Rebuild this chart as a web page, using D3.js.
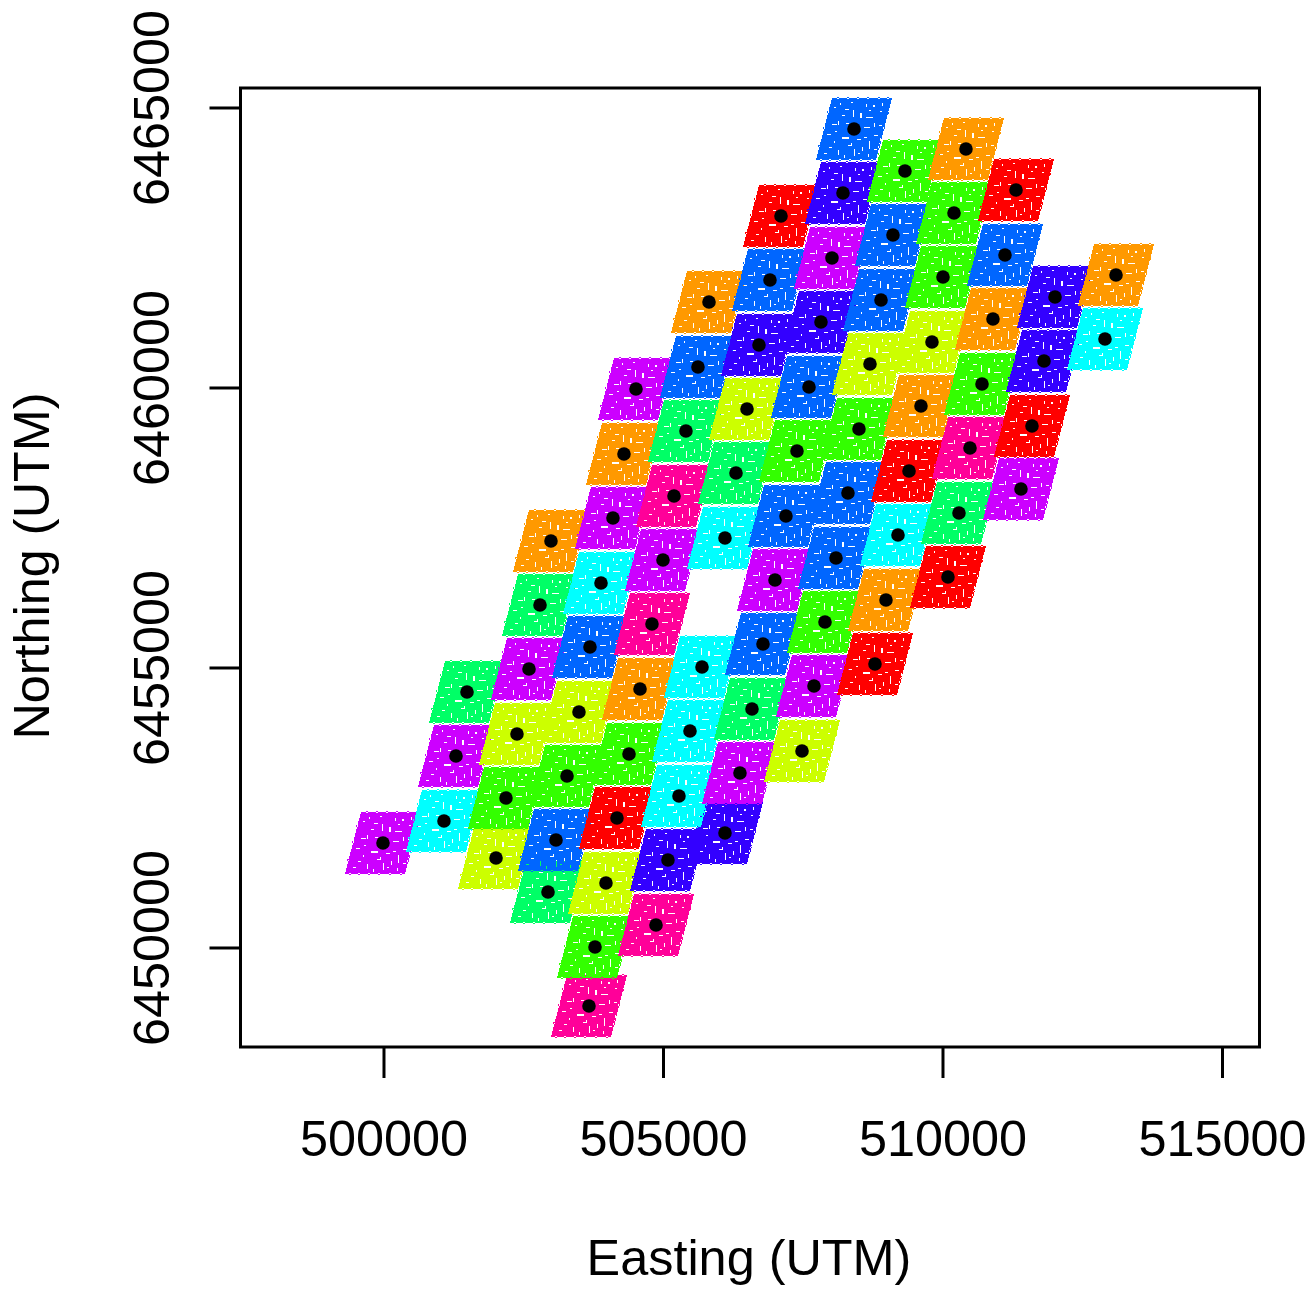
<!DOCTYPE html>
<html>
<head>
<meta charset="utf-8">
<script src="https://cdn.jsdelivr.net/npm/d3@7"></script>
<style>
  html, body { margin: 0; background: #fff; }
  text { font-family: "Liberation Sans", Arial, sans-serif; fill: #000; }
</style>
</head>
<body>
<script>
// tile centres in map units
const eastings = [508417,510420,509329,508220,511315,507111,510206,509114,508023,511118,513104,506914,510009,505823,508900,512013,507826,510903,512907,506717,509812,505626,508703,511816,510707,504517,507612,509615,506503,511601,508506,505411,510492,507397,504302,509401,506306,511404,508309,505197,510295,504105,507200,509204,506109,502996,508095,505000,510098,503891,507004,508989,502800,507898,504803,506789,503694,508792,505698,502603,507701,504589,501494,503497,506592,505483,502388,507487,504392,501297,506377,503283,505286,502191,504177,501082,506109,503086,499991,505089,502013,503980,502943,504875,503784,503676];
const northings = [6464616,6464259,6463866,6463473,6463527,6463062,6463116,6462723,6462312,6462366,6462009,6461920,6461973,6461527,6461562,6461616,6461170,6461223,6460866,6460759,6460812,6460366,6460420,6460473,6460063,6459973,6460009,6459670,6459616,6459312,6459259,6459223,6458920,6458866,6458812,6458509,6458473,6458187,6458116,6458062,6457759,6457670,6457705,6457366,6457312,6457259,6456955,6456920,6456616,6456509,6456562,6456205,6456116,6455812,6455777,6455420,6455366,6455062,6455009,6454973,6454670,6454616,6454562,6454205,6454259,6453866,6453812,6453509,6453455,6453420,6453116,6453062,6452705,6452670,6452312,6452259,6452045,6451920,6451866,6451562,6451598,6451152,6450991,6450402,6450009,6448955];
const clusters = [6,1,3,7,0,0,3,6,8,6,1,6,3,1,6,7,7,1,5,7,2,6,2,7,3,8,6,1,2,0,3,4,9,3,1,0,4,8,6,9,4,8,6,5,5,1,6,8,0,5,8,1,4,3,9,6,6,0,5,8,8,1,4,2,4,5,2,2,3,8,8,3,5,3,0,5,7,6,8,7,2,2,4,9,3,9];

// same as rainbow(10) in R
const palette = ["#FF0000","#FF9900","#CCFF00","#33FF00","#00FF66","#00FFFF","#0066FF","#3300FF","#CC00FF","#FF0099"];

const xTicks = [500000,505000,510000,515000];
const yTicks = [6450000,6455000,6460000,6465000];
const xLabel = "Easting (UTM)";
const yLabel = "Northing (UTM)";

// corners of one tile, metres from its centre
const tileCorners = [[-394,554],[680,554],[394,-554],[-680,-554]];

// every tile has the same sampling holes: [dE, dN, wE, hN] in metres from centre
const tileGaps = [
  [-216,-144,126,36],[0,-360,18,126],[270,-216,18,144],[-18,342,18,126],[108,288,36,90],
  [216,216,126,18],[-162,360,72,18],[-360,396,36,18],[342,432,36,36],[468,324,36,18],
  [-288,144,18,72],[-396,90,90,18],[-144,108,54,18],[180,36,108,18],[360,108,18,72],
  [450,72,54,18],[-486,-90,72,18],[-360,-216,18,36],[180,-144,54,18],[360,-108,72,18],
  [54,-180,72,18],[-108,-288,72,18],[-450,-324,54,18],[-288,-378,18,90],[144,-324,18,72],
  [360,-360,54,18],[-540,-432,54,18],[252,-450,18,54],[-180,-468,18,54],[-54,486,36,18],
  [216,450,18,54],[-216,252,54,18],[270,342,36,18],[504,468,18,54],[-54,-252,18,36],
  [-342,-36,36,18],[468,-162,18,54],[-252,468,18,36],[72,-432,36,18],[450,-252,36,18],
  // ragged edges
  [-300,572,36,32],[-120,572,36,32],[60,572,36,32],[230,572,36,32],[430,572,36,32],[590,572,36,32],
  [-610,-536,36,32],[-450,-536,36,32],[-270,-536,36,32],[-90,-536,36,32],[110,-536,36,32],[300,-536,36,32],
  [-480,320,28,36],[-550,40,28,36],[-640,-290,28,36],[600,300,28,36],[520,40,28,36],[430,-300,28,36]
];

const width = 1315;
const height = 1298;

// plot frame sits at these pixels
const frame = { left: 240.5, right: 1259.5, top: 88, bottom: 1047 };

const xScale = d3.scaleLinear()
  .domain([497442, 515671])
  .range([frame.left, frame.right]);

const yScale = d3.scaleLinear()
  .domain([6448223, 6465348])
  .range([frame.bottom, frame.top]);

const svg = d3.select("body")
  .append("svg")
    .attr("width", width)
    .attr("height", height)
    .style("display", "block");

// tile outline plus its holes, evenodd lets lower tiles show through
function tilePath(i) {
  const e = eastings[i], n = northings[i];
  const p = d3.path();
  tileCorners.forEach((c, k) => {
    if (k === 0) p.moveTo(xScale(e + c[0]), yScale(n + c[1]));
    else p.lineTo(xScale(e + c[0]), yScale(n + c[1]));
  });
  p.closePath();
  tileGaps.forEach(g => {
    const x0 = xScale(e + g[0]);
    const y0 = yScale(n + g[1]);
    p.rect(x0, y0, xScale(e + g[0] + g[2]) - x0, yScale(n + g[1] - g[3]) - y0);
  });
  return p.toString();
}

// drawn from the south end up, northern tiles overlap southern ones
const order = d3.range(eastings.length).reverse();

svg.append("g")
  .attr("shape-rendering", "crispEdges")
  .selectAll("path")
  .data(order)
  .enter()
  .append("path")
    .attr("d", tilePath)
    .attr("fill", i => palette[clusters[i]])
    .attr("fill-rule", "evenodd");

// centre points
svg.append("g")
  .selectAll("circle")
  .data(order)
  .enter()
  .append("circle")
    .attr("cx", i => xScale(eastings[i]))
    .attr("cy", i => yScale(northings[i]))
    .attr("r", 6.8)
    .attr("fill", "#000");

// frame
svg.append("rect")
  .attr("x", frame.left)
  .attr("y", frame.top)
  .attr("width", frame.right - frame.left)
  .attr("height", frame.bottom - frame.top)
  .attr("fill", "none")
  .attr("stroke", "#000")
  .attr("stroke-width", 3);

// axes
const xAxis = svg.append("g")
  .attr("transform", `translate(0, ${frame.bottom})`)
  .call(d3.axisBottom(xScale).tickValues(xTicks).tickFormat(d3.format("d")).tickSize(31).tickPadding(42));

const yAxis = svg.append("g")
  .attr("transform", `translate(${frame.left}, 0)`)
  .call(d3.axisLeft(yScale).tickValues(yTicks).tickFormat(d3.format("d")).tickSize(31));

[xAxis, yAxis].forEach(a => {
  a.select(".domain").remove();
  a.selectAll("line").attr("stroke", "#000").attr("stroke-width", 3);
  a.selectAll("text").attr("font-size", 50.4).attr("font-family", null);
});
xAxis.attr("font-family", null);
yAxis.attr("font-family", null);

// R style vertical y labels
yAxis.selectAll("text")
  .attr("x", 0)
  .attr("y", 0)
  .attr("dy", 0)
  .attr("text-anchor", "middle")
  .attr("transform", "translate(-72, 0) rotate(-90)");

svg.append("text")
  .attr("x", 749)
  .attr("y", 1275)
  .attr("text-anchor", "middle")
  .attr("font-size", 50.4)
  .text(xLabel);

svg.append("text")
  .attr("transform", "translate(49, 566) rotate(-90)")
  .attr("text-anchor", "middle")
  .attr("font-size", 50.4)
  .text(yLabel);
</script>
</body>
</html>
